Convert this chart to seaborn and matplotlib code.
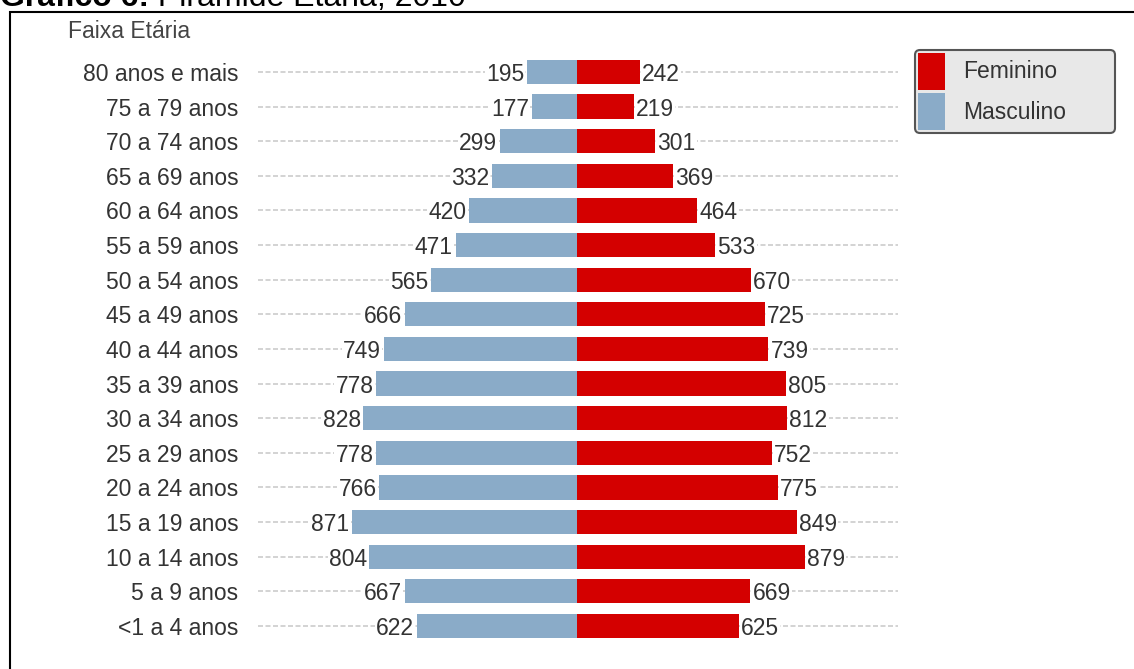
import matplotlib
matplotlib.use("Agg")
import matplotlib.pyplot as plt
from matplotlib.patches import Rectangle
import seaborn as sns
import pandas as pd

faixas = ["80 anos e mais", "75 a 79 anos", "70 a 74 anos", "65 a 69 anos",
          "60 a 64 anos", "55 a 59 anos", "50 a 54 anos", "45 a 49 anos",
          "40 a 44 anos", "35 a 39 anos", "30 a 34 anos", "25 a 29 anos",
          "20 a 24 anos", "15 a 19 anos", "10 a 14 anos", "5 a 9 anos",
          "<1 a 4 anos"]
masculino = [195, 177, 299, 332, 420, 471, 565, 666, 749, 778, 828, 778,
             766, 871, 804, 667, 622]
feminino = [242, 219, 301, 369, 464, 533, 670, 725, 739, 805, 812, 752,
            775, 849, 879, 669, 625]

COR_F = "#d40000"
COR_M = "#8aabc8"
FS = 16.5

sns.set_style("white")
plt.rcParams["font.family"] = ["Liberation Sans", "DejaVu Sans"]

fig = plt.figure(figsize=(11.34, 6.69), dpi=100)
ax = fig.add_axes([258 / 1134, 1 - 645 / 669, 640 / 1134, 595 / 669])

df = pd.DataFrame({"faixa": faixas, "masc": [-v for v in masculino], "fem": feminino})

# dashed guide lines behind each row
for i in range(len(faixas)):
    ax.axhline(i, color="#cccccc", lw=1.2, ls=(0, (3, 1.5)), zorder=0)

sns.barplot(data=df, x="masc", y="faixa", color=COR_M, width=0.7,
            saturation=1, linewidth=0, ax=ax, zorder=2, label="Masculino")
sns.barplot(data=df, x="fem", y="faixa", color=COR_F, width=0.7,
            saturation=1, linewidth=0, ax=ax, zorder=2, label="Feminino")
handles, labels = ax.get_legend_handles_labels()
if ax.legend_ is not None:
    ax.legend_.remove()

for i, (m, f) in enumerate(zip(masculino, feminino)):
    ax.text(-m - 10, i, f"{m}", ha="right", va="center_baseline", fontsize=FS,
            color="#333333", zorder=3,
            bbox=dict(boxstyle="square,pad=0.05", fc="white", ec="none"))
    ax.text(f + 8, i, f"{f}", ha="left", va="center_baseline", fontsize=FS,
            color="#333333", zorder=3,
            bbox=dict(boxstyle="square,pad=0.05", fc="white", ec="none"))

ax.set_xlim(-1235, 1240)
ax.set_ylim(16.55, -0.635)
ax.set_xlabel("")
ax.set_ylabel("")
ax.set_xticks([])
ax.tick_params(axis="y", length=0, pad=14, labelsize=FS, labelcolor="#333333")
for s in ax.spines.values():
    s.set_visible(False)

fig.text(68 / 1134, 1 - 32 / 669, "Faixa Etária", ha="left", va="center",
         fontsize=FS, color="#444444")

order = [labels.index("Feminino"), labels.index("Masculino")]
W, H = fig.bbox.width, fig.bbox.height
leg = fig.legend([handles[k] for k in order], [labels[k] for k in order],
                 loc="upper left",
                 bbox_to_anchor=(915 / W, 1 - 126 / H, 200 / W, 76 / H),
                 mode="expand",
                 fontsize=FS, frameon=True, fancybox=True, framealpha=1,
                 facecolor="#e8e8e8", edgecolor="#555555",
                 handlelength=1.2, handleheight=2.1, handletextpad=0.8,
                 borderpad=0.12, labelspacing=0.15, borderaxespad=0)
leg.get_frame().set_linewidth(1.5)
for t in leg.get_texts():
    t.set_color("#333333")

# outer border of the figure panel
fig.patches.append(Rectangle((10 / 1134, -0.1), 2, 1.1 - 12 / 669,
                             transform=fig.transFigure, fill=False,
                             ec="black", lw=1.5, zorder=10))

# figure caption, partly above the top edge
t1 = fig.text(0.0, 1 - 6 / 669, "Gráfico 6:", ha="left", va="baseline",
              fontsize=23, fontweight="bold", color="black")
fig.canvas.draw()
bb = t1.get_window_extent()
fig.text(bb.x1 / fig.bbox.width, 1 - 6 / 669, " Pirâmide Etária, 2010",
         ha="left", va="baseline", fontsize=23, color="black")

fig.savefig("out.png", dpi=100)
